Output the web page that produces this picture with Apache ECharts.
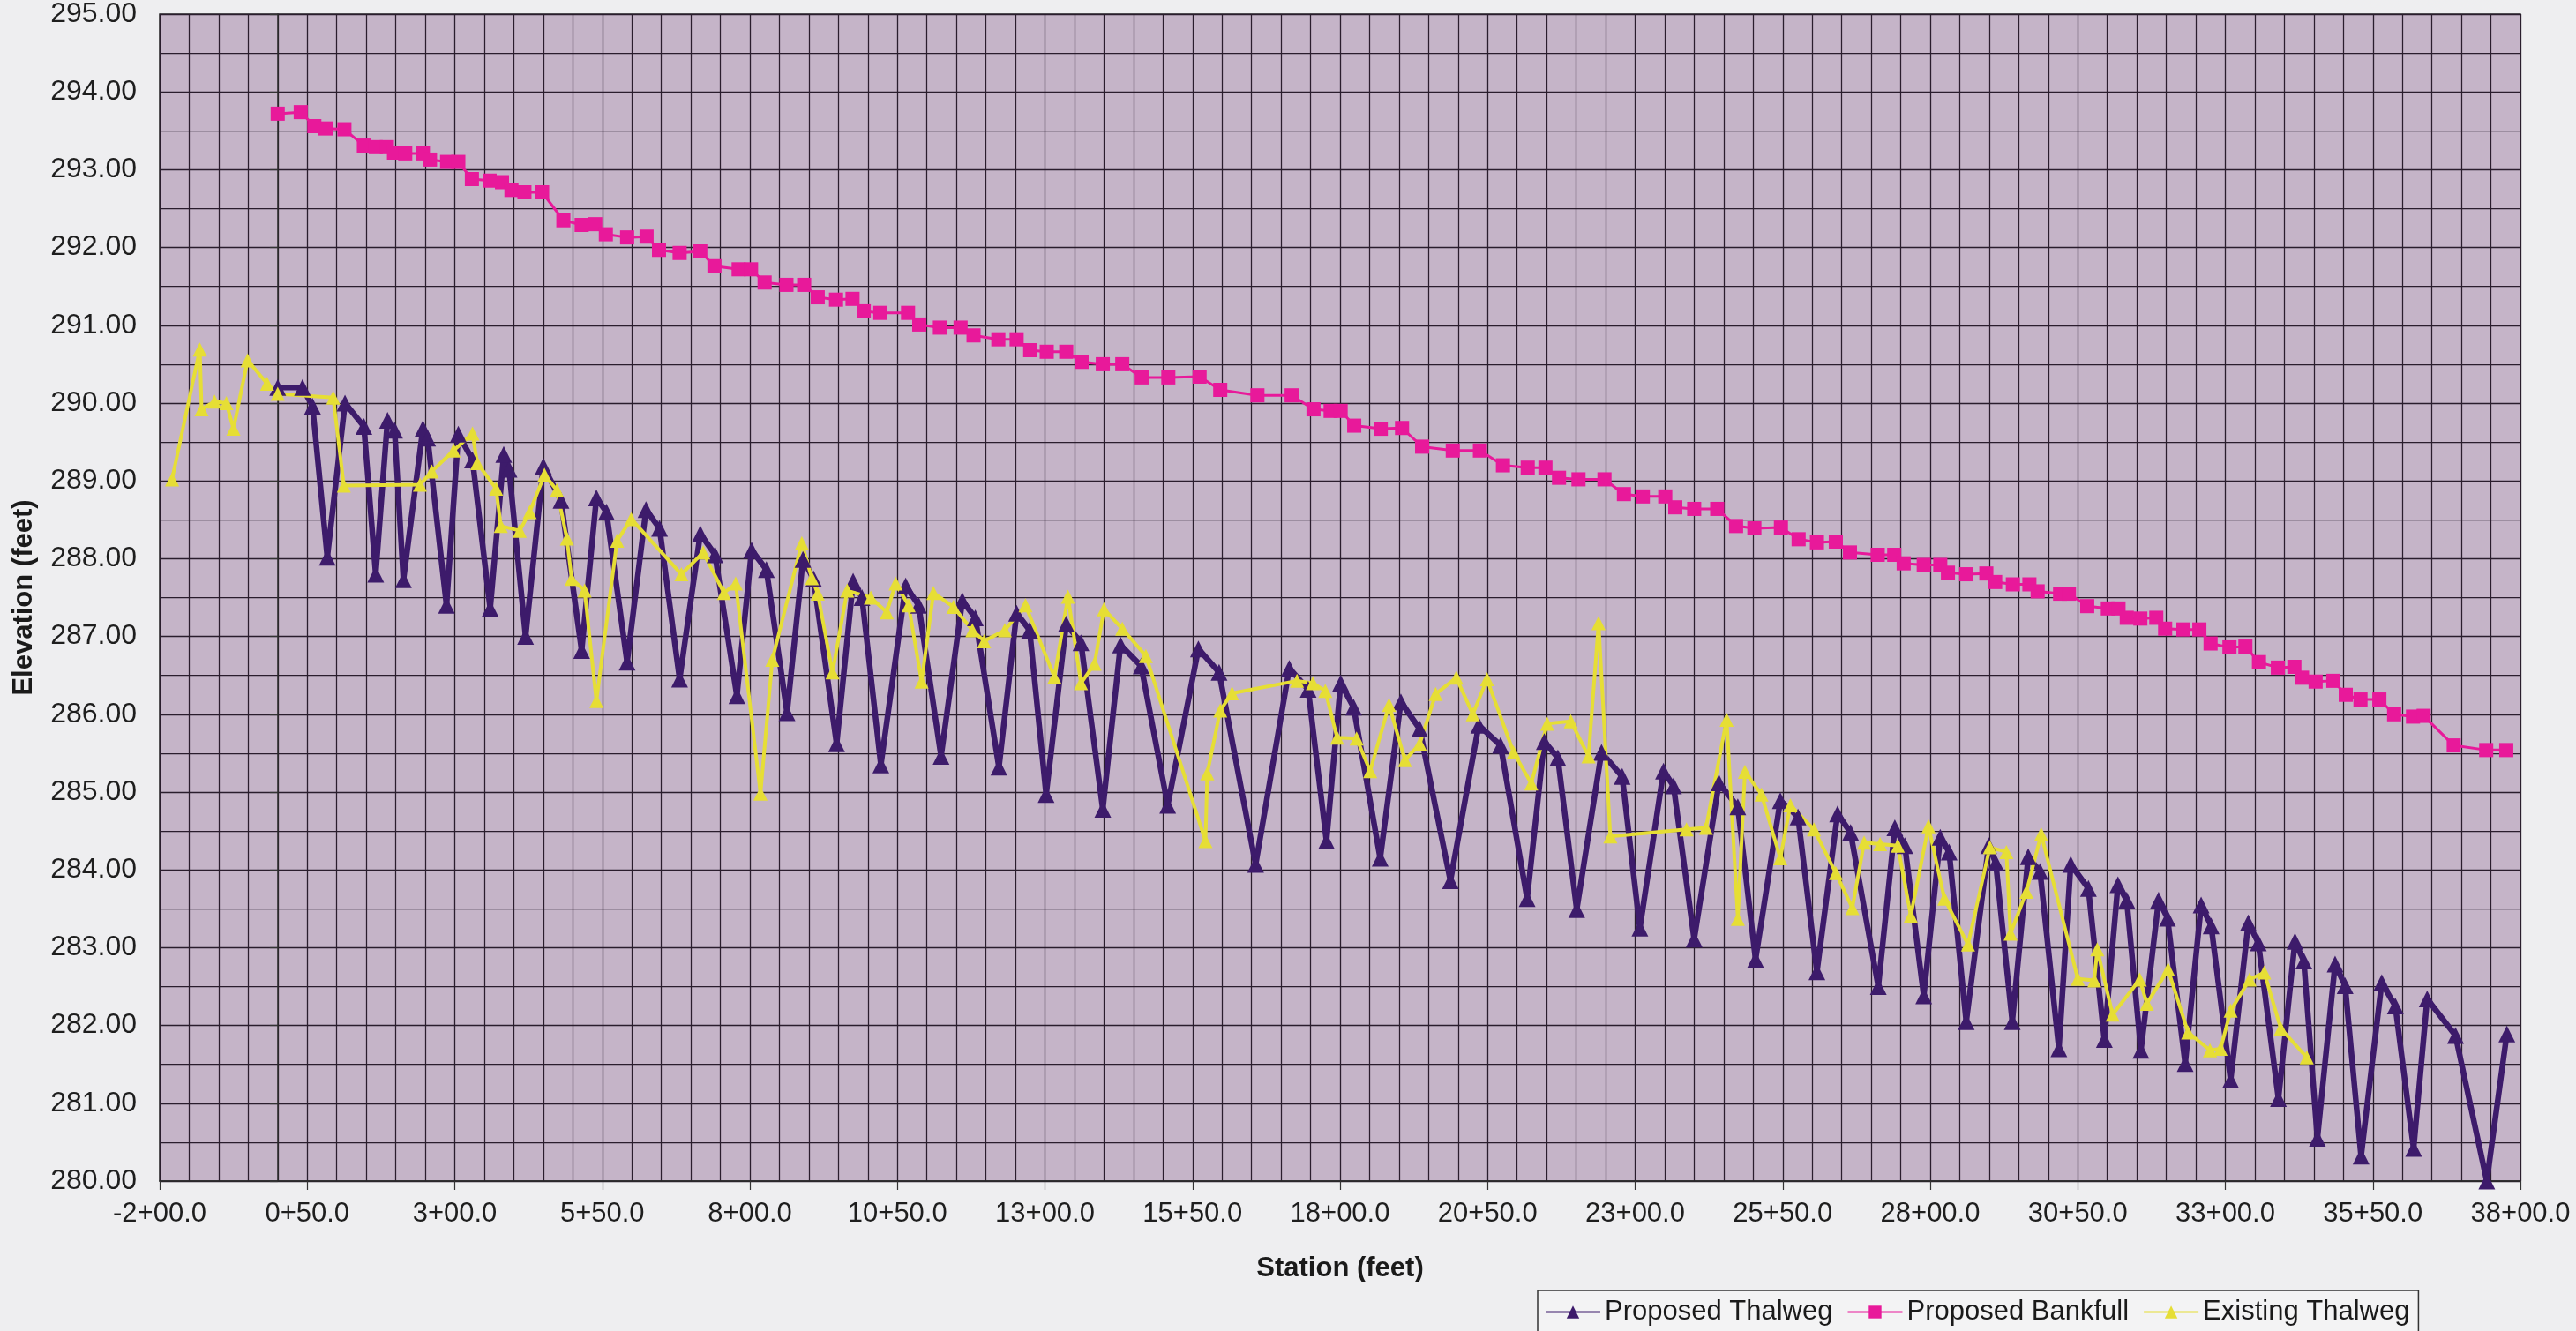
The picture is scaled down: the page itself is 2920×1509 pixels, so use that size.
<!DOCTYPE html>
<html>
<head>
<meta charset="utf-8">
<script src="https://cdn.jsdelivr.net/npm/echarts@6/dist/echarts.min.js"></script>
<style>
html,body{margin:0;padding:0;background:#eeeef0;}
#chart{width:2920px;height:1509px;}
</style>
</head>
<body>
<div id="chart"></div>
<script>
// Proposed Thalweg
const ptStation = [0,42,59,84,114,146,166,186,198,213,246,254,286,306,330,360,383,392,420,450,480,515,540,557,592,624,647,681,716,741,778,803,828,863,890,908,947,975,990,1022,1064,1086,1124,1160,1182,1222,1252,1274,1302,1336,1361,1398,1428,1463,1508,1560,1595,1657,1714,1746,1777,1801,1823,1868,1903,1935,1987,2035,2072,2117,2146,2169,2201,2243,2278,2308,2348,2365,2400,2442,2474,2504,2546,2576,2608,2643,2665,2712,2740,2757,2789,2817,2832,2861,2899,2911,2939,2966,2986,3018,3038,3068,3095,3118,3133,3157,3187,3202,3232,3259,3276,3309,3339,3356,3390,3418,3433,3456,3486,3503,3530,3565,3588,3619,3642,3690,3743,3777];
const ptElev = [290.2,290.2,289.96,288.02,290.0,289.7,287.8,289.78,289.65,287.73,289.67,289.55,287.4,289.6,289.27,287.36,289.34,289.15,287.0,289.19,288.75,286.82,288.78,288.6,286.67,288.63,288.39,286.45,288.32,288.05,286.24,288.11,287.86,286.02,287.99,287.74,285.62,287.71,287.5,285.35,287.65,287.4,285.46,287.46,287.24,285.32,287.3,287.08,284.97,287.16,286.92,284.78,286.89,286.62,284.83,286.84,286.54,284.07,286.59,286.32,284.37,286.4,286.09,284.15,286.16,285.81,283.86,285.86,285.6,283.63,285.65,285.44,283.49,285.51,285.2,283.25,285.27,285.08,283.11,285.12,284.81,282.85,284.89,284.68,282.69,284.72,284.48,282.5,284.54,284.31,282.38,284.42,284.23,282.05,284.31,284.09,282.05,284.17,283.98,281.7,284.07,283.76,281.82,283.81,283.61,281.68,283.61,283.38,281.51,283.55,283.28,281.3,283.32,283.06,281.06,283.08,282.83,280.55,282.79,282.51,280.32,282.55,282.25,280.42,282.34,281.87,280.0,281.89];

// Proposed Bankfull
const pbStation = [0,39,62,81,113,146,166,185,197,216,246,258,287,306,329,359,380,396,418,448,484,515,538,556,592,625,646,681,716,740,781,802,825,862,892,915,946,974,993,1021,1068,1087,1122,1157,1179,1221,1252,1275,1303,1336,1362,1398,1431,1464,1509,1562,1597,1660,1718,1755,1784,1801,1824,1869,1905,1939,1991,2037,2076,2118,2148,2171,2204,2248,2281,2313,2351,2368,2400,2439,2471,2502,2547,2577,2608,2640,2664,2711,2739,2755,2789,2817,2830,2861,2895,2910,2940,2968,2982,3020,3035,3066,3101,3119,3133,3156,3183,3198,3229,3256,3275,3307,3334,3357,3389,3417,3430,3453,3483,3504,3529,3561,3586,3618,3636,3687,3742,3776];
const pbElev = [293.72,293.74,293.56,293.53,293.52,293.31,293.29,293.29,293.22,293.21,293.21,293.13,293.1,293.1,292.88,292.86,292.84,292.74,292.71,292.71,292.35,292.29,292.3,292.17,292.13,292.14,291.97,291.93,291.95,291.76,291.72,291.72,291.55,291.52,291.52,291.36,291.33,291.34,291.18,291.16,291.16,291.01,290.97,290.97,290.87,290.82,290.82,290.68,290.66,290.66,290.53,290.5,290.5,290.33,290.33,290.34,290.17,290.1,290.1,289.92,289.9,289.9,289.71,289.67,289.68,289.44,289.39,289.39,289.2,289.17,289.17,289.04,289.02,289.02,288.83,288.8,288.8,288.66,288.64,288.64,288.42,288.39,288.4,288.25,288.21,288.22,288.08,288.05,288.05,287.94,287.92,287.92,287.82,287.8,287.81,287.7,287.67,287.67,287.58,287.55,287.55,287.39,287.36,287.36,287.24,287.23,287.24,287.1,287.09,287.09,286.91,286.86,286.87,286.67,286.6,286.61,286.47,286.42,286.43,286.25,286.19,286.19,286.0,285.97,285.98,285.6,285.54,285.54];

// Existing Thalweg
const etStation = [-179,-132,-129,-107,-87,-75,-51,-18,0,94,112,241,261,298,330,338,370,378,410,427,452,473,490,498,520,540,575,599,684,721,756,776,818,838,888,905,915,940,965,1005,1032,1047,1069,1091,1111,1145,1177,1197,1232,1267,1316,1339,1361,1384,1400,1431,1471,1572,1575,1597,1617,1727,1754,1775,1795,1828,1851,1883,1910,1935,1962,1997,2025,2049,2094,2124,2151,2191,2221,2238,2258,2387,2420,2455,2474,2486,2514,2546,2563,2603,2640,2668,2688,2715,2745,2767,2797,2824,2864,2901,2929,2936,2963,2988,3050,3078,3083,3109,3155,3167,3203,3237,3274,3292,3309,3341,3366,3394,3438];
const etElev = [289.02,290.69,289.92,290.02,290.0,289.67,290.55,290.25,290.12,290.07,288.94,288.95,289.12,289.39,289.61,289.23,288.9,288.42,288.36,288.6,289.08,288.88,288.26,287.74,287.59,286.17,288.23,288.51,287.8,288.08,287.56,287.68,284.98,286.7,288.2,287.75,287.55,286.54,287.59,287.5,287.31,287.68,287.4,286.42,287.56,287.38,287.08,286.94,287.08,287.4,286.48,287.51,286.4,286.65,287.35,287.1,286.75,284.37,285.24,286.05,286.27,286.43,286.4,286.3,285.7,285.69,285.27,286.12,285.41,285.62,286.26,286.47,286.0,286.45,285.51,285.11,285.88,285.91,285.46,287.17,284.43,284.52,284.54,285.93,283.37,285.26,284.97,284.15,284.83,284.52,283.96,283.51,284.35,284.33,284.31,283.41,284.56,283.63,283.04,284.29,284.23,283.18,283.72,284.46,282.6,282.58,282.98,282.14,282.59,282.28,282.72,281.91,281.68,281.7,282.19,282.59,282.68,281.96,281.59];

const seriesNames = ['Proposed Thalweg','Proposed Bankfull','Existing Thalweg'];
const xName = 'Station (feet)';
const yName = 'Elevation (feet)';

function pairs(xs, ys){ return xs.map((x,i)=>[x, ys[i]]); }
function fmtStation(v){
  const h = Math.trunc(v/100);
  const r = Math.abs(v - h*100);
  return (v<0?'-':'') + Math.abs(h) + '+' + (r<10?'0':'') + r.toFixed(1);
}

const FONT = 'Liberation Sans, Arial, sans-serif';
const gridCol = '#2a1d2d';

const chart = echarts.init(document.getElementById('chart'), null, {renderer:'canvas'});
chart.setOption({
  backgroundColor:'#eeeef0',
  animation:false,
  grid:{left:181,right:63,top:16,bottom:170,show:true,backgroundColor:'#c5b4c8',borderColor:'#2b2b2b',borderWidth:1.5},
  legend:{
    data:seriesNames, left:1743, top:1463, orient:'horizontal',
    itemWidth:62, itemHeight:18, itemGap:16,
    padding:[9,10,14,8], borderColor:'#333', borderWidth:1.5, backgroundColor:'#f3f3f4',
    textStyle:{fontSize:31,fontFamily:FONT,color:'#1a1a1a'}
  },
  xAxis:{
    type:'value', min:-200, max:3800, interval:250,
    name:xName, nameLocation:'middle', nameGap:84,
    nameTextStyle:{fontFamily:FONT,fontWeight:'bold',fontSize:31,color:'#1a1a1a'},
    axisLine:{show:true,onZero:false,lineStyle:{color:'#2b2b2b',width:1.5}},
    axisTick:{show:true,length:10,lineStyle:{color:'#333',width:1.2}},
    axisLabel:{fontSize:31,fontFamily:FONT,color:'#1e1e1e',margin:22,formatter:fmtStation},
    splitLine:{show:true,lineStyle:{color:gridCol,width:1.3}},
    minorTick:{show:false,splitNumber:5},
    minorSplitLine:{show:true,lineStyle:{color:gridCol,width:1.25}}
  },
  yAxis:{
    type:'value', min:280, max:295, interval:1,
    name:yName, nameLocation:'middle', nameGap:138, nameRotate:90,
    nameTextStyle:{fontFamily:FONT,fontWeight:'bold',fontSize:31,color:'#1a1a1a'},
    axisLine:{show:true,lineStyle:{color:'#2b2b2b',width:1.5}},
    axisTick:{show:true,length:9,lineStyle:{color:'#333',width:1.2}},
    axisLabel:{fontSize:32,fontFamily:FONT,color:'#1e1e1e',margin:26,formatter:v=>v.toFixed(2)},
    splitLine:{show:true,lineStyle:{color:gridCol,width:1.3}},
    minorTick:{show:false,splitNumber:2},
    minorSplitLine:{show:true,lineStyle:{color:gridCol,width:1.25}}
  },
  series:[
    {name:seriesNames[0],type:'line',data:pairs(ptStation,ptElev),symbol:'triangle',symbolSize:19,
     lineStyle:{color:'#3d1b6b',width:6.5},itemStyle:{color:'#3d1b6b'}},
    {name:seriesNames[1],type:'line',data:pairs(pbStation,pbElev),symbol:'rect',symbolSize:16,
     lineStyle:{color:'#e8199a',width:3},itemStyle:{color:'#e8199a'}},
    {name:seriesNames[2],type:'line',data:pairs(etStation,etElev),symbol:'triangle',symbolSize:16,
     lineStyle:{color:'#e6de35',width:4},itemStyle:{color:'#e6de35'}}
  ]
});
</script>
</body>
</html>
